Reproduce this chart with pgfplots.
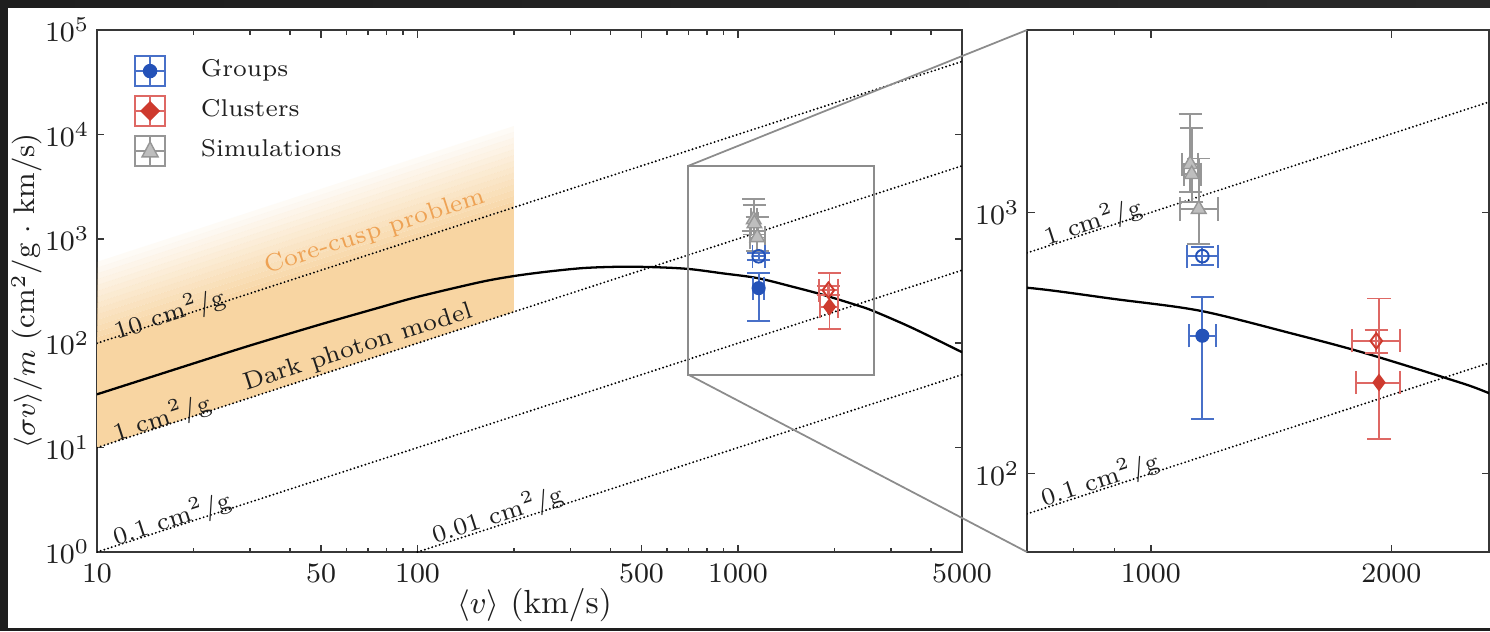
\documentclass[border=0pt]{standalone}
\usepackage{pgfplots}
\usepackage{pgfplotstable}
\pgfplotsset{compat=1.18}

\definecolor{grpblue}{RGB}{36,82,184}
\definecolor{grpbar}{RGB}{72,112,200}
\definecolor{clured}{RGB}{206,58,46}
\definecolor{clubar}{RGB}{222,104,100}
\definecolor{simgray}{RGB}{190,190,190}
\definecolor{simbar}{RGB}{150,150,150}
\definecolor{bandorange}{RGB}{248,213,162}
\definecolor{cusptext}{RGB}{238,162,84}
\definecolor{axgray}{RGB}{55,55,55}
\definecolor{zoomgray}{RGB}{140,140,140}
\definecolor{frameL}{RGB}{30,30,30}
\definecolor{frameM}{RGB}{88,88,88}
\definecolor{frameR}{RGB}{40,40,40}

% dark photon model curve, <sigma v>/m versus <v>
\pgfplotstableread{
v sv
10 32.4
20 64
30 95
50 152
75 217
100 278
157 385
200 440
253 484
330 525
428 540
550 535
703 514
900 466
1153 420
1500 344
1840 291
2350 231
2650 203
3500 140
5000 82
}\dpcurve

% data points: x, y and asymmetric errors
\pgfplotstableread{
x y xm xp ym yp
1160 337 45 45 175 138
}\grpfilled
\pgfplotstableread{
x y xm xp ym yp
1160 680 50 52 50 55
}\grpopen
\pgfplotstableread{
x y xm xp ym yp
1930 223 125 120 87 245
}\clufilled
\pgfplotstableread{
x y xm xp ym yp
1915 322 130 135 32 32
}\cluopen
\pgfplotstableread{
x y xm xp ym yp
1120 1530 25 25 330 860
1125 1400 25 30 300 700
1148 1030 60 65 270 580
}\sims

\tikzset{
  linelabel/.style={font=\fontsize{7}{8}\selectfont, rotate=18, text=black!88},
  dotline/.style={black, line width=0.6pt, line cap=round, dash pattern=on 0pt off 1.1pt},
  band/.style={fill=bandorange, draw=none, fill opacity=#1},
}

\pgfplotsset{every axis/.append style={
    scale only axis, height=52.2mm,
    axis line style={axgray, line width=0.6pt},
    tick style={axgray, line width=0.45pt},
    major tick length=0.75mm, minor tick length=0.45mm,
    tick align=inside,
    tick label style={font=\fontsize{8}{9.5}\selectfont, text=black!88},
    yticklabel style={xshift=0.5mm},
}}

% the data series, shared by both panels
\newcommand{\drawdata}{%
  \addplot[forget plot, only marks, mark=triangle*, mark size=2.4pt, mark options={fill=simgray, draw=simbar, line width=0.4pt},
    error bars/.cd, x dir=both, x explicit, y dir=both, y explicit,
    error bar style={simbar, line width=0.55pt}, error mark options={rotate=90, simbar, line width=0.55pt, mark size=3.3pt}]
    table[x=x, y=y, x error minus=xm, x error plus=xp, y error minus=ym, y error plus=yp] {\sims};
  \addplot[forget plot, only marks, mark=o, mark size=1.8pt, mark options={draw=grpblue, line width=0.55pt},
    error bars/.cd, x dir=both, x explicit, y dir=both, y explicit,
    error bar style={grpbar, line width=0.55pt}, error mark options={rotate=90, grpbar, line width=0.55pt, mark size=3.3pt}]
    table[x=x, y=y, x error minus=xm, x error plus=xp, y error minus=ym, y error plus=yp] {\grpopen};
  \addplot[forget plot, only marks, mark=*, mark size=1.8pt, mark options={fill=grpblue, draw=grpblue},
    error bars/.cd, x dir=both, x explicit, y dir=both, y explicit,
    error bar style={grpbar, line width=0.55pt}, error mark options={rotate=90, grpbar, line width=0.55pt, mark size=3.3pt}]
    table[x=x, y=y, x error minus=xm, x error plus=xp, y error minus=ym, y error plus=yp] {\grpfilled};
  \addplot[forget plot, only marks, mark=diamond, mark size=2.2pt, mark options={draw=clured, line width=0.55pt},
    error bars/.cd, x dir=both, x explicit, y dir=both, y explicit,
    error bar style={clubar, line width=0.55pt}, error mark options={rotate=90, clubar, line width=0.55pt, mark size=3.3pt}]
    table[x=x, y=y, x error minus=xm, x error plus=xp, y error minus=ym, y error plus=yp] {\cluopen};
  \addplot[forget plot, only marks, mark=diamond*, mark size=2.2pt, mark options={fill=clured, draw=clured},
    error bars/.cd, x dir=both, x explicit, y dir=both, y explicit,
    error bar style={clubar, line width=0.55pt}, error mark options={rotate=90, clubar, line width=0.55pt, mark size=3.3pt}]
    table[x=x, y=y, x error minus=xm, x error plus=xp, y error minus=ym, y error plus=yp] {\clufilled};
}

\begin{document}
\begin{tikzpicture}
% screen frame and page
\fill[frameL] (0mm,0mm) rectangle (149mm,63.1mm);
\shade[left color=frameL, middle color=frameM, right color=frameR] (0mm,62.3mm) rectangle (149mm,63.1mm);
\fill[white] (0.8mm,0.3mm) rectangle (149mm,62.3mm);

\begin{axis}[name=main, at={(9.7mm,7.9mm)}, anchor=south west, width=86.5mm,
  xmode=log, ymode=log,
  xmin=10, xmax=5000, ymin=1, ymax=100000,
  xtick={10,50,100,500,1000,5000},
  xticklabels={$10$,$50$,$100$,$500$,$1000$,$5000$},
  minor xtick={20,30,40,60,70,80,90,200,300,400,600,700,800,900,2000,3000,4000},
  ytick={1,10,100,1000,10000,100000},
  yminorticks=false,
  xlabel={$\langle v\rangle$ (km/s)},
  ylabel={$\langle\sigma v\rangle/m$ (cm$^2$/g $\cdot$ km/s)},
  xlabel style={font=\fontsize{9.5}{11}\selectfont, text=black!88, at={(axis description cs:0.5,0)}, anchor=center, yshift=-5.3mm, xshift=0.5mm},
  ylabel style={font=\fontsize{8.5}{10}\selectfont, text=black!88, at={(axis description cs:-0.081,0.5)}, anchor=center},
  legend style={draw=none, fill=none, at={(axis description cs:0.03,0.971)}, anchor=north west,
    font=\fontsize{6.9}{8}\selectfont, text=black!88, row sep=0.35mm},
  legend cell align=left,
]
% legend glyphs: marker with its error bar cross
\addlegendimage{legend image code/.code={%
  \draw[grpbar, line width=0.5pt] (0.04cm,-0.15cm) rectangle (0.34cm,0.15cm)
    (0.04cm,0cm) -- (0.34cm,0cm) (0.19cm,-0.15cm) -- (0.19cm,0.15cm);
  \fill[grpblue] (0.19cm,0cm) circle (0.065cm);
  \path (0.62cm,0cm);}}
\addlegendentry{Groups}
\addlegendimage{legend image code/.code={%
  \draw[clubar, line width=0.5pt] (0.04cm,-0.15cm) rectangle (0.34cm,0.15cm)
    (0.04cm,0cm) -- (0.34cm,0cm) (0.19cm,-0.15cm) -- (0.19cm,0.15cm);
  \fill[clured] (0.19cm,0.09cm) -- (0.28cm,0cm) -- (0.19cm,-0.09cm) -- (0.10cm,0cm) -- cycle;
  \path (0.62cm,0cm);}}
\addlegendentry{Clusters}
\addlegendimage{legend image code/.code={%
  \draw[simbar, line width=0.5pt] (0.04cm,-0.15cm) rectangle (0.34cm,0.15cm)
    (0.04cm,0cm) -- (0.34cm,0cm) (0.19cm,-0.15cm) -- (0.19cm,0.15cm);
  \filldraw[fill=simgray, draw=simbar, line width=0.4pt] (0.19cm,0.09cm) -- (0.27cm,-0.06cm) -- (0.11cm,-0.06cm) -- cycle;
  \path (0.62cm,0cm);}}
\addlegendentry{Simulations}

% core-cusp band: solid between 1 and 10 cm^2/g, fading out towards 60 cm^2/g
\addplot[band=1, forget plot] coordinates {(10,10) (200,200) (200,2000) (10,100)};
\addplot[band=0.93, forget plot] coordinates {(10,100) (200,2000) (200,2280) (10,114)};
\addplot[band=0.865, forget plot] coordinates {(10,114) (200,2280) (200,2580) (10,129)};
\addplot[band=0.80, forget plot] coordinates {(10,129) (200,2580) (200,2940) (10,147)};
\addplot[band=0.735, forget plot] coordinates {(10,147) (200,2940) (200,3340) (10,167)};
\addplot[band=0.67, forget plot] coordinates {(10,167) (200,3340) (200,3800) (10,190)};
\addplot[band=0.605, forget plot] coordinates {(10,190) (200,3800) (200,4320) (10,216)};
\addplot[band=0.54, forget plot] coordinates {(10,216) (200,4320) (200,4900) (10,245)};
\addplot[band=0.475, forget plot] coordinates {(10,245) (200,4900) (200,5580) (10,279)};
\addplot[band=0.41, forget plot] coordinates {(10,279) (200,5580) (200,6340) (10,317)};
\addplot[band=0.345, forget plot] coordinates {(10,317) (200,6340) (200,7200) (10,360)};
\addplot[band=0.28, forget plot] coordinates {(10,360) (200,7200) (200,8200) (10,410)};
\addplot[band=0.215, forget plot] coordinates {(10,410) (200,8200) (200,9320) (10,466)};
\addplot[band=0.15, forget plot] coordinates {(10,466) (200,9320) (200,10580) (10,529)};
\addplot[band=0.085, forget plot] coordinates {(10,529) (200,10580) (200,12040) (10,602)};

% constant cross-section lines
\addplot[dotline, forget plot] coordinates {(10,100) (5000,50000)};
\addplot[dotline, forget plot] coordinates {(10,10) (5000,5000)};
\addplot[dotline, forget plot] coordinates {(10,1) (5000,500)};
\addplot[dotline, forget plot] coordinates {(100,1) (5000,50)};

\addplot[black, line width=0.65pt, smooth, forget plot] table[x=v, y=sv] {\dpcurve};

\drawdata

% zoomed region
\draw[zoomgray, line width=0.5pt] (axis cs:700,50) rectangle (axis cs:2650,5000);
\coordinate (zTL) at (axis cs:700,5000);
\coordinate (zBL) at (axis cs:700,50);

\node[linelabel] at (axis cs:16.9,190) {10 cm$^2$/g};
\node[linelabel] at (axis cs:15.95,19.2) {1 cm$^2$/g};
\node[linelabel] at (axis cs:17.15,2.07) {0.1 cm$^2$/g};
\node[linelabel] at (axis cs:178,2.26) {0.01 cm$^2$/g};
\node[font=\fontsize{7}{8}\selectfont, rotate=18, text=black!88] at (axis cs:65.2,90) {Dark photon model};
\node[font=\fontsize{7}{8}\selectfont, rotate=18, text=cusptext] at (axis cs:73.6,1161) {Core-cusp problem};
\end{axis}

\begin{axis}[name=inset, at={(102.7mm,7.9mm)}, anchor=south west, width=46.2mm,
  xmode=log, ymode=log,
  xmin=700, xmax=2650, ymin=50, ymax=5000,
  xtick={1000,2000}, xticklabels={$1000$,$2000$},
  minor xtick={800,900},
  ytick={100,1000},
  yminorticks=false,
]
\addplot[dotline, forget plot] coordinates {(700,700) (2650,2650)};
\addplot[dotline, forget plot] coordinates {(700,70) (2650,265)};
\addplot[black, line width=0.65pt, smooth, forget plot] table[x=v, y=sv] {\dpcurve};
\drawdata
\node[linelabel] at (axis cs:847,919) {1 cm$^2$/g};
\node[linelabel] at (axis cs:864,94.3) {0.1 cm$^2$/g};
\coordinate (iTL) at (rel axis cs:0,1);
\coordinate (iBL) at (rel axis cs:0,0);
\end{axis}

\draw[zoomgray, line width=0.5pt] (zTL) -- (iTL) (zBL) -- (iBL);

\pgfresetboundingbox
\useasboundingbox (0mm,0mm) rectangle (149mm,63.1mm);
\end{tikzpicture}
\end{document}
